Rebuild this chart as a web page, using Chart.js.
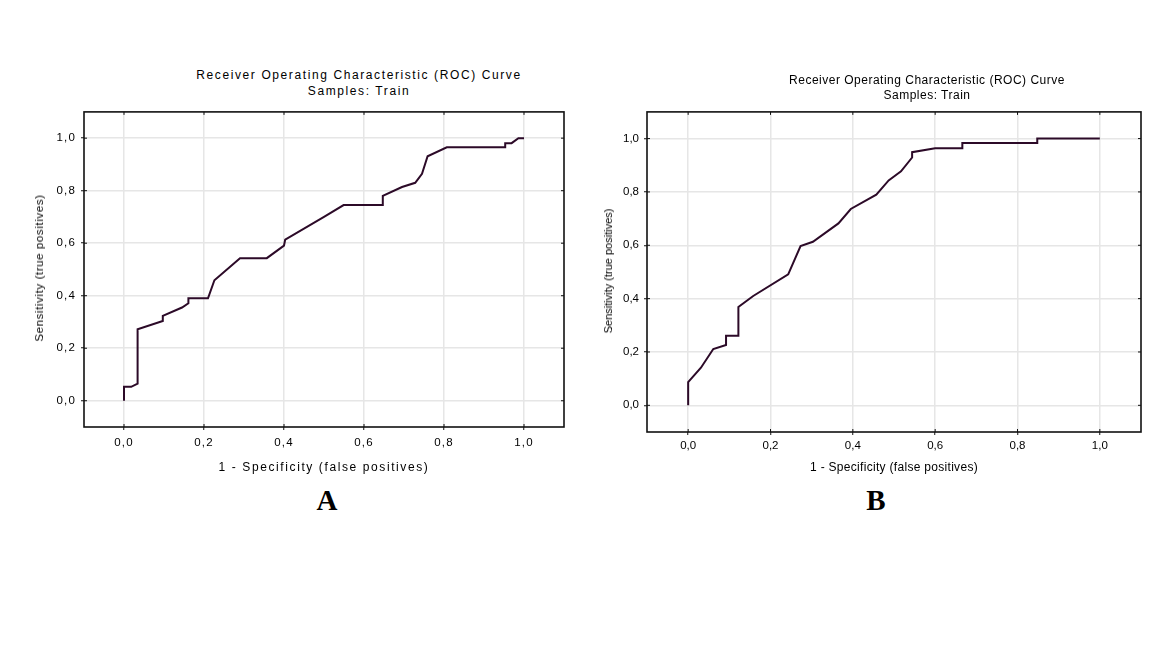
<!DOCTYPE html>
<html>
<head>
<meta charset="utf-8">
<script src="https://cdn.jsdelivr.net/npm/chart.js@4.4.1/dist/chart.umd.min.js"></script>
<style>
body{margin:0;background:#fff;}
#page{position:relative;width:1166px;height:669px;overflow:hidden;font-family:"Liberation Sans",Arial,sans-serif;color:#000;}
.box{position:absolute;}
.txt{position:absolute;white-space:nowrap;transform:translate(-50%,-50%);text-align:center;}
.rot{position:absolute;white-space:nowrap;transform:translate(-50%,-50%) rotate(-90deg);}
.big{position:absolute;font-family:"Liberation Serif","Times New Roman",serif;font-weight:bold;font-size:29px;transform:translate(-50%,-50%);color:#000;}
</style>
</head>
<body>
<div id="page">
  <div class="box" style="left:0;top:100px;width:580px;height:380px;"><canvas id="rocA"></canvas></div>
  <div class="box" style="left:590px;top:100px;width:570px;height:380px;"><canvas id="rocB"></canvas></div>

  <div class="txt" style="left:359px;top:83px;font-size:12px;line-height:16px;letter-spacing:1.6px;">Receiver Operating Characteristic (ROC) Curve<br>Samples: Train</div>
  <div class="txt" style="left:927px;top:88px;font-size:12px;line-height:15px;letter-spacing:0.5px;">Receiver Operating Characteristic (ROC) Curve<br>Samples: Train</div>

  <div class="txt" style="left:324px;top:467px;font-size:12px;letter-spacing:1.6px;">1 - Specificity (false positives)</div>
  <div class="txt" style="left:894px;top:467px;font-size:12px;letter-spacing:0.3px;">1 -  Specificity (false positives)</div>

  <div class="rot" style="left:39px;top:268px;font-size:11.5px;letter-spacing:0.6px;">Sensitivity (true positives)</div>
  <div class="rot" style="left:608px;top:271px;font-size:11px;">Sensitivity (true positives)</div>

  <div class="big" style="left:327px;top:500px;">A</div>
  <div class="big" style="left:876px;top:500px;">B</div>
</div>

<script>
// ROC curve A (train)
const fprA = [0, 0, 0.018, 0.034, 0.034, 0.097, 0.097, 0.145, 0.161, 0.161, 0.210, 0.226, 0.290, 0.357, 0.400, 0.403, 0.500, 0.549, 0.647, 0.647, 0.695, 0.728, 0.745, 0.759, 0.807, 0.953, 0.953, 0.969, 0.986, 1.0]
const tprA = [0, 0.053, 0.053, 0.065, 0.272, 0.304, 0.323, 0.355, 0.371, 0.390, 0.390, 0.459, 0.543, 0.543, 0.591, 0.614, 0.700, 0.745, 0.745, 0.780, 0.814, 0.830, 0.864, 0.931, 0.965, 0.965, 0.981, 0.981, 1.0, 1.0]

// ROC curve B (train)
const fprB = [0, 0, 0.031, 0.061, 0.092, 0.092, 0.122, 0.122, 0.158, 0.243, 0.273, 0.303, 0.365, 0.395, 0.457, 0.487, 0.517, 0.544, 0.544, 0.600, 0.666, 0.666, 0.848, 0.848, 1.0]
const tprB = [0, 0.087, 0.141, 0.211, 0.226, 0.261, 0.261, 0.369, 0.410, 0.491, 0.597, 0.613, 0.682, 0.736, 0.790, 0.843, 0.877, 0.929, 0.949, 0.964, 0.964, 0.983, 0.983, 1.0, 1.0]

const tickValues = [0, 0.2, 0.4, 0.6, 0.8, 1.0]
const axisMin = -0.1
const axisMax = 1.1

function fmt(v){ return v.toFixed(1).replace('.', ',') }

// black frame round the plot with short inner ticks on every side
const framePlugin = {
  id: 'frame',
  afterDraw(chart){
    const a = chart.chartArea, ctx = chart.ctx
    const xs = chart.scales.x, ys = chart.scales.y
    ctx.save()
    ctx.strokeStyle = '#111'
    ctx.lineWidth = 1
    ctx.beginPath()
    for(const v of tickValues){
      const px = xs.getPixelForValue(v)
      ctx.moveTo(px, a.top); ctx.lineTo(px, a.top + 3)
      ctx.moveTo(px, a.bottom); ctx.lineTo(px, a.bottom - 3)
      const py = ys.getPixelForValue(v)
      ctx.moveTo(a.left, py); ctx.lineTo(a.left + 3, py)
      ctx.moveTo(a.right, py); ctx.lineTo(a.right - 3, py)
    }
    ctx.stroke()
    ctx.lineWidth = 1.6
    ctx.strokeRect(a.left, a.top, a.right - a.left, a.bottom - a.top)
    ctx.restore()
  }
}

const spacingPlugin = {
  id: 'spacing',
  beforeLayout(chart, args, opts){ chart.ctx.letterSpacing = opts.px || '0px' },
  beforeDraw(chart, args, opts){ chart.ctx.letterSpacing = opts.px || '0px' }
}

function makeRoc(id, fpr, tpr, g){
  const pts = fpr.map((x, i) => ({x: x, y: tpr[i]}))
  return new Chart(document.getElementById(id), {
    type: 'scatter',
    data: {
      datasets: [{
        data: pts,
        showLine: true,
        borderColor: '#2c0a28',
        borderWidth: 2,
        pointRadius: 0,
        tension: 0,
        fill: false
      }]
    },
    options: {
      responsive: true,
      maintainAspectRatio: false,
      animation: false,
      layout: { padding: { top: 10, right: g.padRight, left: 0, bottom: 0 } },
      plugins: {
        legend: { display: false },
        tooltip: { enabled: false },
        spacing: { px: g.spacing }
      },
      scales: {
        x: {
          type: 'linear',
          min: axisMin, max: axisMax,
          afterBuildTicks(s){ s.ticks = tickValues.map(v => ({value: v})) },
          afterFit(s){ s.height = g.xHeight },
          border: { display: false },
          grid: { color: '#e6e6e6', lineWidth: 1.5, tickLength: 3, tickColor: '#111', tickWidth: 1 },
          ticks: { color: '#000', font: { family: 'Liberation Sans', size: 11.5 }, padding: g.xPad, maxRotation: 0, callback: v => fmt(v) }
        },
        y: {
          type: 'linear',
          min: axisMin, max: axisMax,
          afterBuildTicks(s){ s.ticks = tickValues.map(v => ({value: v})) },
          afterFit(s){ s.width = g.yWidth },
          border: { display: false },
          grid: { color: '#e6e6e6', lineWidth: 1.5, tickLength: 3, tickColor: '#111', tickWidth: 1 },
          ticks: { color: '#000', font: { family: 'Liberation Sans', size: 11.5 }, padding: 5, callback: v => fmt(v) }
        }
      }
    },
    plugins: [spacingPlugin, framePlugin]
  })
}

makeRoc('rocA', fprA, tprA, { yWidth: 84, xHeight: 53, padRight: 16, xPad: 6, spacing: '1.2px' })
makeRoc('rocB', fprB, tprB, { yWidth: 57, xHeight: 48, padRight: 19, xPad: 4, spacing: '0px' })
</script>
</body>
</html>
